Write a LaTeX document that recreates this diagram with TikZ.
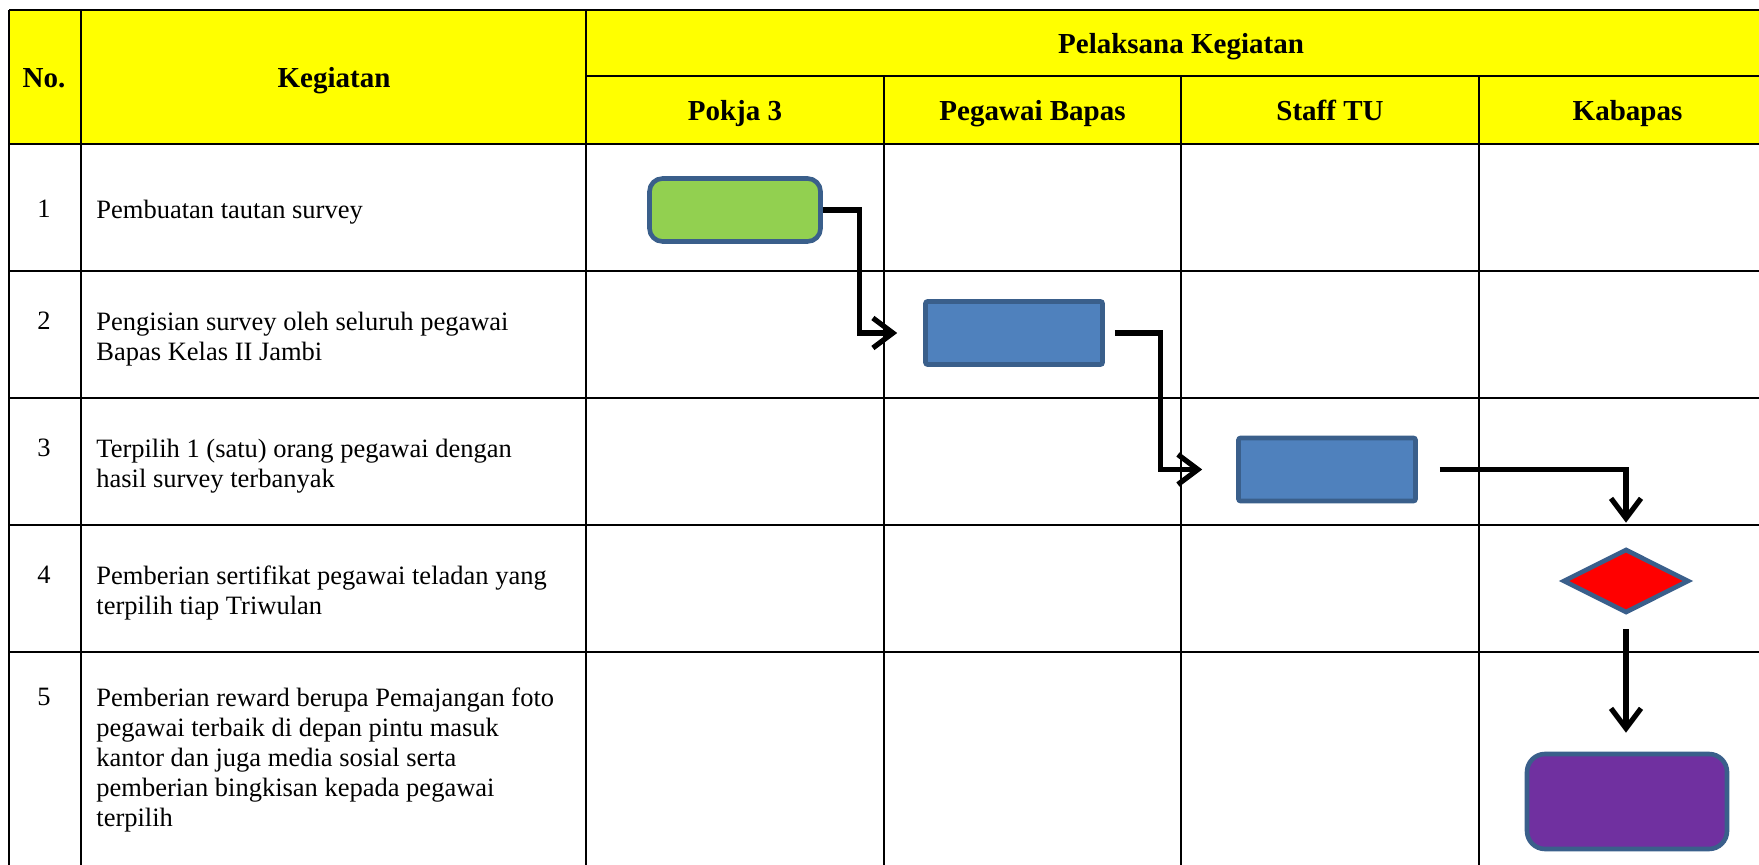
\documentclass[tikz,border=0pt]{standalone}
\usepackage{fontspec}
\setmainfont{Liberation Serif}
\usetikzlibrary{shapes.geometric,arrows.meta}
\definecolor{hdryellow}{HTML}{FFFF00}
\definecolor{shpline}{HTML}{3A5F8B}
\definecolor{shpgreen}{HTML}{92D050}
\definecolor{shpblue}{HTML}{4F81BD}
\definecolor{shpred}{HTML}{FF0000}
\definecolor{shppurple}{HTML}{7030A0}

\begin{document}
\begin{tikzpicture}[x=0.5pt, y=-0.5pt, font=\fontsize{13.25}{14.9}\selectfont]
\tikzset{
  hdr/.style={font=\fontsize{14.5}{17}\selectfont\bfseries, anchor=base, inner sep=0pt},
  num/.style={anchor=north, inner sep=0pt},
  txt/.style={anchor=west, align=left, inner sep=0pt},
  shp/.style={draw=shpline, line width=2.3pt, inner sep=0pt},
  procbox/.style={shp, fill=shpblue, minimum width=88.5pt, minimum height=31.5pt, rounded corners=1pt},
  arr/.style={-{Straight Barb[length=10pt,width=15pt]}, line width=2.6pt},
  grid/.style={line width=1.3pt},
}
\useasboundingbox (0,0) rectangle (1759,865);
\clip (0,0) rectangle (1759,865);
\fill[hdryellow] (9,10) rectangle (1776,144);
\draw[grid] (9,10) -- (1776,10) (586,76) -- (1776,76) (9,144) -- (1776,144);
\foreach \y in {271,398,525,652} \draw[grid] (9,\y) -- (1776,\y);
\foreach \x in {9,81,586} \draw[grid] (\x,10) -- (\x,880);
\foreach \x in {884,1181,1479} \draw[grid] (\x,76) -- (\x,880);

\node[hdr] (hno) at (44,88) {No.};
\node[hdr] (hkeg) at (334,88) {Kegiatan};
\node[hdr] (hpel) at (1181,54) {Pelaksana Kegiatan};
\node[hdr] (hpokja) at (735,121) {Pokja 3};
\node[hdr] (hpeg) at (1032.5,121) {Pegawai Bapas};
\node[hdr] (hstaff) at (1330,121) {Staff TU};
\node[hdr] (hkaba) at (1627.5,121) {Kabapas};

\node[txt] (t1) at (96,212) {Pembuatan tautan survey};
\node[txt] (t2) at (96,339) {Pengisian survey oleh seluruh pegawai\\Bapas Kelas II Jambi};
\node[txt] (t3) at (96,466) {Terpilih 1 (satu) orang pegawai dengan\\hasil survey terbanyak};
\node[txt] (t4) at (96,593) {Pemberian sertifikat pegawai teladan yang\\terpilih tiap Triwulan};
\node[txt] (t5) at (96,760) {Pemberian reward berupa Pemajangan foto\\pegawai terbaik di depan pintu masuk\\kantor dan juga media sosial serta\\pemberian bingkisan kepada pegawai\\terpilih};
\node[num] (n1) at (hno |- t1.north) {1};
\node[num] (n2) at (hno |- t2.north) {2};
\node[num] (n3) at (hno |- t3.north) {3};
\node[num] (n4) at (hno |- t4.north) {4};
\node[num] (n5) at (hno |- t5.north) {5};

\node[shp, fill=shpgreen, minimum width=85.5pt, minimum height=31.5pt, rounded corners=6.5pt] (s1) at (735,210) {};
\node[procbox] (s2) at (1014,333) {};
\node[procbox] (s3) at (1327,469.5) {};
\node[shp, diamond, fill=shpred, minimum width=63pt, minimum height=32pt] (s4) at (1626,581) {};
\node[shp, fill=shppurple, minimum width=100pt, minimum height=47.5pt, rounded corners=9pt] (s5) at (1627,801.5) {};

\draw[arr, shorten >=13pt] (s1.east) -- ++(37,0) |- (s2.west);
\draw[arr, shorten <=5pt, shorten >=17pt] (s2.east) -- ++(56,0) |- (s3.west);
\draw[arr, shorten <=11pt, shorten >=12pt] (s3.east) -| (s4.north);
\draw[arr, shorten <=7pt, shorten >=9.5pt] (s4.south) -- (s4.south |- s5.north);
\end{tikzpicture}
\end{document}
